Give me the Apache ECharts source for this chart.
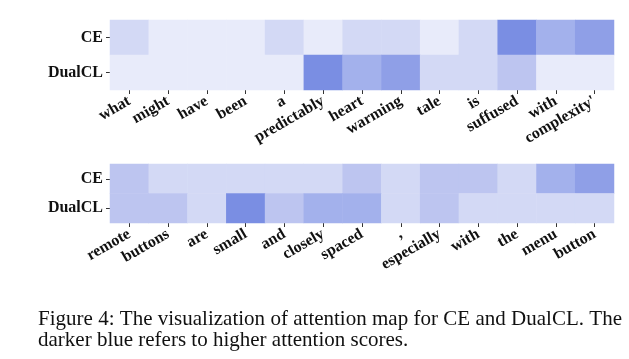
<!DOCTYPE html>
<html><head><meta charset="utf-8">
<script src="https://cdn.jsdelivr.net/npm/echarts@6/dist/echarts.min.js"></script>
<style>html,body{margin:0;padding:0;background:#fff}#c{width:629px;height:359px}</style>
</head><body><div id="c"></div>
<script>
const rows = ['CE', 'DualCL'];
const tokens1 = ['what', 'might', 'have', 'been', 'a', 'predictably', 'heart', 'warming', 'tale', 'is', 'suffused', 'with', "complexity'"];
const ce1 =     [1, 0, 0, 0, 1, 0, 1, 1, 0, 1, 5, 3, 4];
const dual1 =   [0, 0, 0, 0, 0, 5, 3, 4, 1, 1, 2, 0, 0];
const tokens2 = ['remote', 'buttons', 'are', 'small', 'and', 'closely', 'spaced', ',', 'especially', 'with', 'the', 'menu', 'button'];
const ce2 =     [2, 1, 1, 1, 1, 1, 2, 1, 2, 2, 1, 3, 4];
const dual2 =   [2, 2, 1, 5, 2, 3, 3, 1, 2, 1, 1, 1, 1];
const palette = ['#e8ebfa', '#d3d9f5', '#bdc5f0', '#a3b1ec', '#8f9fe7', '#7a8ee3'];
const captionLine1 = 'Figure 4: The visualization of attention map for CE and DualCL. The';
const captionLine2 = 'darker blue refers to higher attention scores.';

function cells(ce, dual) {
  const d = [];
  ce.forEach((v, i) => d.push([i, 0, v]));
  dual.forEach((v, i) => d.push([i, 1, v]));
  return d;
}
const font = 'Liberation Serif';
function xAxis(idx, tokens) {
  return {
    type: 'category', gridIndex: idx, data: tokens,
    axisLine: { show: false },
    axisTick: { show: true, alignWithLabel: true, length: 4, lineStyle: { color: '#333' } },
    axisLabel: { interval: 0, rotate: 30, margin: 10, fontFamily: font, fontWeight: 'bold', fontSize: 16, color: '#111' },
    splitLine: { show: false }
  };
}
function yAxis(idx) {
  return {
    type: 'category', gridIndex: idx, data: rows, inverse: true,
    axisLine: { show: false },
    axisTick: { show: true, alignWithLabel: true, length: 4, lineStyle: { color: '#333' } },
    axisLabel: { margin: 7, fontFamily: font, fontWeight: 'bold', fontSize: 16, color: '#111' },
    splitLine: { show: false }
  };
}

// justified caption line (word positions from text measurement)
const capFont = '21px "Liberation Serif"';
const mctx = document.createElement('canvas').getContext('2d');
mctx.font = capFont;
const words = captionLine1.split(' ');
const widths = words.map(w => mctx.measureText(w).width);
const x0 = 38, x1 = 622;
const gap = (x1 - x0 - widths.reduce((a, b) => a + b, 0)) / (words.length - 1);
const graphics = [];
let cx = x0;
words.forEach((w, i) => {
  graphics.push({ type: 'text', x: cx, y: 309, style: { text: w, font: capFont, fill: '#111' } });
  cx += widths[i] + gap;
});
graphics.push({ type: 'text', x: x0, y: 330, style: { text: captionLine2, font: capFont, fill: '#111' } });

const chart = echarts.init(document.getElementById('c'), null, { renderer: 'canvas' });
chart.setOption({
  animation: false,
  backgroundColor: '#fff',
  grid: [
    { left: 110, right: 15, top: 20, height: 70 },
    { left: 110, right: 15, top: 164, height: 59 }
  ],
  xAxis: [xAxis(0, tokens1), xAxis(1, tokens2)],
  yAxis: [yAxis(0), yAxis(1)],
  visualMap: { show: false, type: 'continuous', min: 0, max: 5, dimension: 2, seriesIndex: [0, 1], inRange: { color: palette } },
  series: [
    { type: 'heatmap', xAxisIndex: 0, yAxisIndex: 0, data: cells(ce1, dual1), itemStyle: { borderWidth: 0 } },
    { type: 'heatmap', xAxisIndex: 1, yAxisIndex: 1, data: cells(ce2, dual2), itemStyle: { borderWidth: 0 } }
  ],
  graphic: graphics
});
</script></body></html>
